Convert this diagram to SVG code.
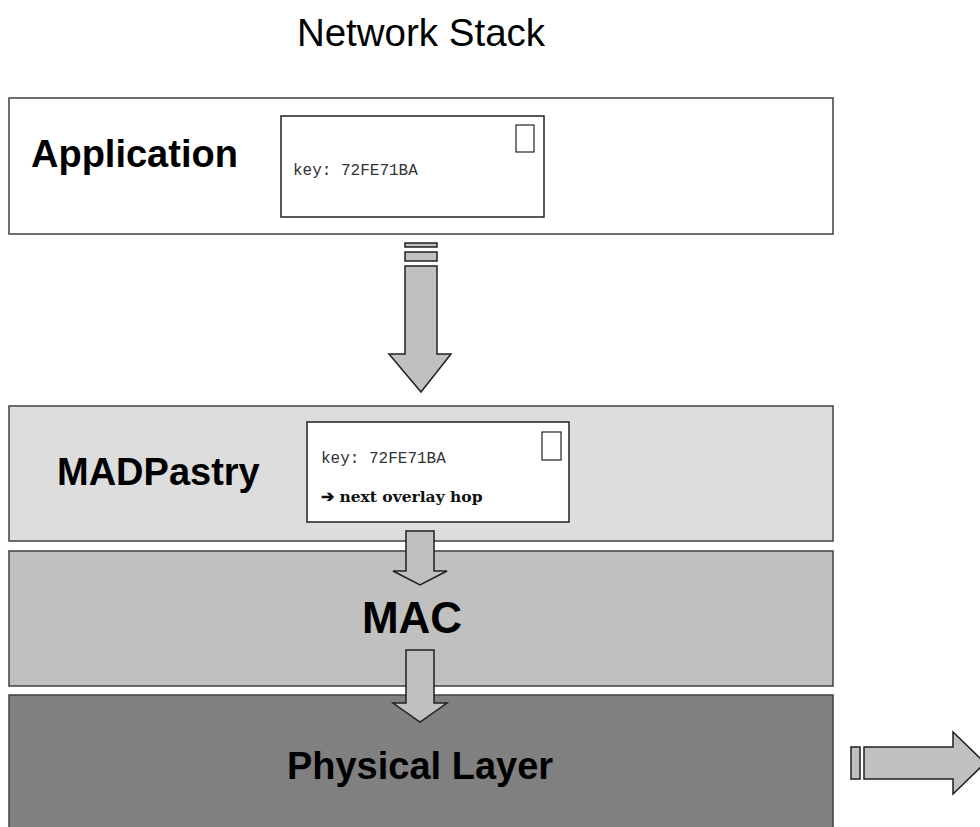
<svg xmlns="http://www.w3.org/2000/svg" width="980" height="827" viewBox="0 0 980 827">
<style>
.layer{stroke:#404040;stroke-width:1.5}
.lbl{font-family:"Liberation Sans",Arial,sans-serif;font-weight:bold;font-size:38px;fill:#000}
.card{fill:#fff;stroke:#202020;stroke-width:1.5}
.stamp{fill:#fff;stroke:#202020;stroke-width:1.2}
.mono{font-family:"Liberation Mono","Courier New",monospace;font-size:16px;fill:#333}
.arr{fill:#c0c0c0;stroke:#202020;stroke-width:1.5;stroke-linejoin:miter}
</style>
<rect width="980" height="827" fill="#fff"/>
<text x="421" y="46" text-anchor="middle" font-family="Liberation Sans, Arial, sans-serif" font-size="38.5" fill="#000">Network Stack</text>

<g id="application">
<rect class="layer" x="9" y="98" width="824" height="136" fill="#fff"/>
<text class="lbl" x="31" y="167">Application</text>
<rect class="card" x="281" y="116" width="263" height="101"/>
<rect class="stamp" x="516" y="125" width="18" height="27"/>
<text class="mono" x="293" y="175">key: 72FE71BA</text>
</g>

<g id="madpastry">
<rect class="layer" x="9" y="406" width="824" height="135" fill="#dddddd"/>
<text class="lbl" x="57" y="485">MADPastry</text>
<rect class="card" x="307" y="422" width="262" height="100"/>
<rect class="stamp" x="542" y="432" width="19" height="28"/>
<text class="mono" x="321" y="463">key: 72FE71BA</text>
<text x="321" y="502" font-family="DejaVu Serif, Liberation Serif, serif" font-weight="bold" font-size="15.5" fill="#111">➔ next overlay hop</text>
</g>

<g id="mac">
<rect class="layer" x="9" y="551" width="824" height="135" fill="#c0c0c0"/>
<text class="lbl" x="412" y="633" text-anchor="middle" style="font-size:44px">MAC</text>
</g>

<g id="physical">
<rect class="layer" x="9" y="695" width="824" height="140" fill="#808080"/>
<text class="lbl" x="420" y="779" text-anchor="middle">Physical Layer</text>
</g>

<g id="connectors">
<rect class="arr" x="405" y="243" width="32" height="4"/>
<rect class="arr" x="405" y="252" width="32" height="9"/>
<polygon class="arr" points="405,266 437,266 437,354 451,354 421,392 389,354 405,354"/>
<polygon class="arr" points="406,531 434,531 434,571 447,571 420,585 393,571 406,571"/>
<polygon class="arr" points="406,650 434,650 434,703 447,703 420,722 393,703 406,703"/>
<rect class="arr" x="851" y="747" width="9" height="32"/>
<polygon class="arr" points="864,747 953,747 953,732 985,763 953,794 953,779 864,779"/>
</g>
</svg>
